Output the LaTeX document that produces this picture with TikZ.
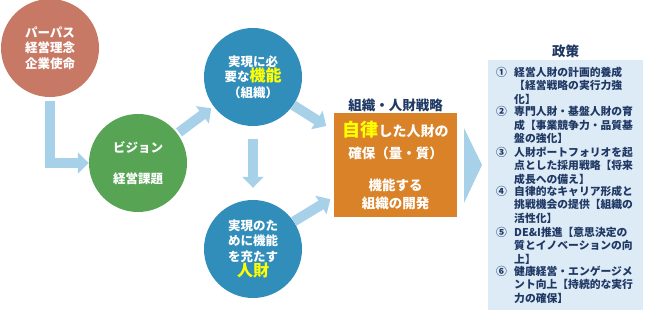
\documentclass[tikz,border=0pt]{standalone}
\usepackage{fontspec}
\setmainfont{Noto Sans CJK JP}
\usetikzlibrary{positioning,arrows.meta,calc}
\definecolor{purred}{RGB}{200,121,102}
\definecolor{visgreen}{RGB}{86,164,84}
\definecolor{funblue}{RGB}{49,142,186}
\definecolor{arrblue}{RGB}{166,209,232}
\definecolor{strorange}{RGB}{218,130,40}
\definecolor{hiyellow}{RGB}{255,255,0}
\definecolor{navytxt}{RGB}{31,56,100}
\definecolor{polbg}{RGB}{221,235,247}
\newcommand{\fsz}[2]{\fontsize{#1}{#2}\selectfont}
\newcommand{\kiiro}[1]{{\color{hiyellow}\fsz{16}{17}#1}}
\tikzset{
  maru/.style={circle,minimum size=98pt,inner sep=0pt,text=white,align=center,font=\bfseries\fsz{12.5}{15.5}},
  maruR/.style={maru,fill=purred},
  maruG/.style={maru,fill=visgreen},
  maruB/.style={maru,fill=funblue},
  yaji/.style={draw=arrblue,line width=10pt,-{Triangle[width=21pt,length=11pt]}},
  midasi/.style={text=navytxt,font=\bfseries\fsz{13.5}{15},inner sep=0pt},
  bango/.style={anchor=north west,inner sep=0pt,text=navytxt,font=\bfseries\fsz{10.8}{13.3}},
  koumoku/.style={anchor=north west,inner sep=0pt,text=navytxt,align=left,font=\bfseries\fsz{10.8}{13.3}},
}
\begin{document}
\begin{tikzpicture}[x=1pt,y=-1pt]
  \useasboundingbox (0,0) rectangle (645,312);
  % circles
  \node[maruR] (pur) at (50,48) {パーパス\\経営理念\\企業使命};
  \node[maruG] (vis) at (138,163) {ビジョン\\[16pt]経営課題};
  \node[maruB] (kin) at (253,77) {実現に必\\要な\kiiro{機能}\\（組織）};
  \node[maruB] (jin) at (253,249) {実現のた\\めに機能\\を充たす\\\kiiro{人財}};
  % strategy box
  \node[fill=strorange,minimum width=123pt,minimum height=104pt,inner sep=0pt,
        text=white,align=center,font=\bfseries\fsz{13.5}{18}] (sen) at (395.5,165)
    {{\color{hiyellow}\fsz{18}{18}自律}\fsz{14}{18}した人財の\\[4pt]確保（量・質）\\[14pt]機能する\\組織の開発};
  \node[midasi,above=1pt of sen] (sent) {組織・人財戦略};
  % arrows
  \draw[yaji,line join=miter,shorten <=4pt] (pur) -- (pur |- vis) -- (vis);
  \draw[yaji,shorten <=2pt,shorten >=3pt] (vis) -- (kin);
  \draw[yaji,shorten <=13pt,shorten >=12pt] (kin) -- (jin);
  \draw[yaji,shorten >=9pt] (kin.-35) -- ($(sen.north west)+(0,18)$);
  \draw[yaji,shorten >=4pt] (jin.34) -- ($(sen.south west)+(0,-20)$);
  \fill[arrblue] (464,128) -- (482,165) -- (464,203) -- cycle;
  % policies
  \node[fill=polbg,minimum width=155pt,minimum height=250pt,inner sep=0pt] (sei) at (565.5,185) {};
  \node[midasi,above=2pt of sei] (seit) {政策};
  \node[bango] (b1) at (496,67) {①};
  \node[koumoku] (k1) at (514,67) {経営人財の計画的養成\\【経営戦略の実行力強\\化】};
  \node[bango] (b2) at (496,106.5) {②};
  \node[koumoku] (k2) at (514,106.5) {専門人財・基盤人財の育\\成【事業競争力・品質基\\盤の強化】};
  \node[bango] (b3) at (496,147) {③};
  \node[koumoku] (k3) at (514,147) {人財ポートフォリオを起\\点とした採用戦略【将来\\成長への備え】};
  \node[bango] (b4) at (496,186) {④};
  \node[koumoku] (k4) at (514,186) {自律的なキャリア形成と\\挑戦機会の提供【組織の\\活性化】};
  \node[bango] (b5) at (496,227) {⑤};
  \node[koumoku] (k5) at (514,227) {DE\&I推進【意思決定の\\質とイノベーションの向\\上】};
  \node[bango] (b6) at (496,266) {⑥};
  \node[koumoku] (k6) at (514,266) {健康経営・エンゲージメ\\ント向上【持続的な実行\\力の確保】};
\end{tikzpicture}
\end{document}
